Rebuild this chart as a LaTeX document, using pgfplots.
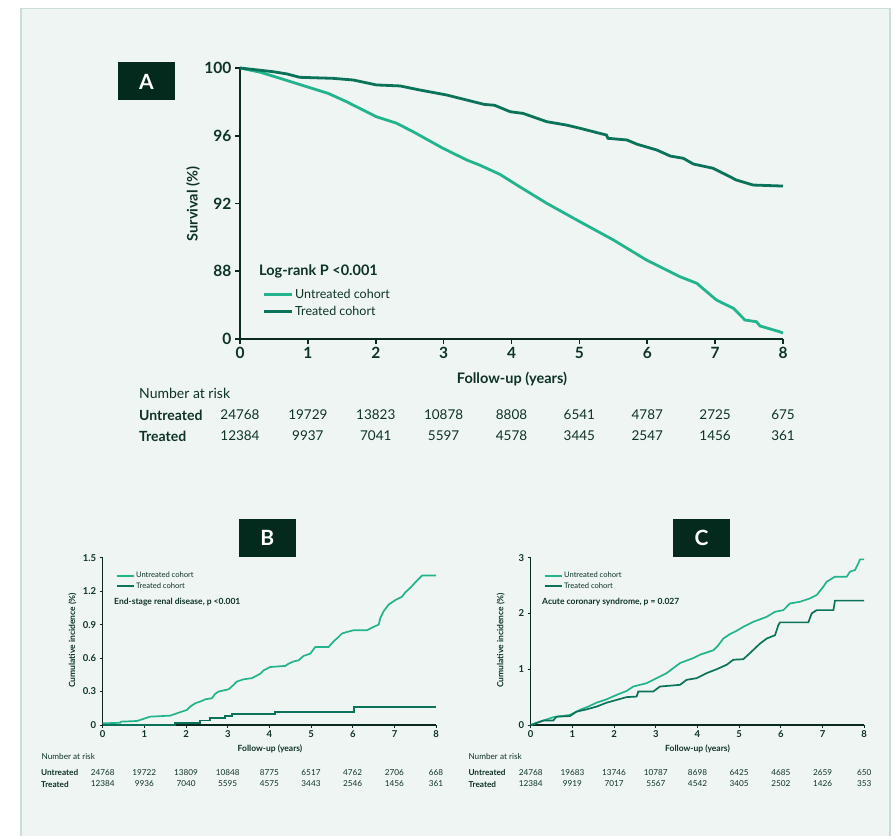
\documentclass[border=0pt]{standalone}
\usepackage{pgfplots}
\pgfplotsset{compat=1.18}
\usepackage{fontspec}
\setmainfont{Lato}
\definecolor{untr}{HTML}{22B48C}
\definecolor{trt}{HTML}{0B735A}
\definecolor{ink}{HTML}{0E3326}
\definecolor{axc}{HTML}{0B2A1F}
\definecolor{boxc}{HTML}{032A1C}
\definecolor{bgc}{HTML}{EEF5F2}
\definecolor{bord}{HTML}{CADDD6}
\newcommand{\fs}[1]{\fontsize{#1}{#1}\selectfont}

\pgfplotstableread{
t s
0 100
0.3 99.75
0.59 99.39
0.98 98.9
1.3 98.5
1.57 98.01
2.01 97.12
2.3 96.75
2.55 96.24
2.99 95.26
3.34 94.57
3.53 94.27
3.83 93.72
4.12 92.99
4.52 92.01
4.96 91.03
5.5 89.85
5.99 88.66
6.48 87.68
6.73 87.29
7.02 86.30
7.27 85.81
7.44 85.12
7.61 85.02
7.66 84.77
7.95 84.43
8 84.35
}\AUntr
\pgfplotstableread{
t s
0 100
0.49 99.78
0.69 99.65
0.88 99.45
1.37 99.39
1.67 99.29
2.01 99.0
2.36 98.94
2.65 98.70
3.04 98.41
3.34 98.11
3.6 97.85
3.75 97.8
3.98 97.42
4.17 97.32
4.52 96.83
4.81 96.63
5.01 96.44
5.40 96.04
5.42 95.85
5.70 95.75
5.85 95.50
6.14 95.16
6.34 94.80
6.53 94.67
6.68 94.33
6.97 94.08
7.17 93.68
7.31 93.39
7.56 93.09
8 93.03
}\ATrt
\pgfplotstableread{
t c
0 0.015
0.42 0.02
0.44 0.03
0.82 0.036
1.02 0.06
1.14 0.075
1.62 0.084
1.78 0.105
1.9 0.12
2.02 0.135
2.1 0.165
2.22 0.195
2.34 0.21
2.46 0.23
2.62 0.24
2.7 0.28
2.78 0.30
3.02 0.32
3.14 0.36
3.22 0.39
3.38 0.41
3.58 0.42
3.78 0.46
3.86 0.49
4.02 0.52
4.38 0.53
4.46 0.55
4.58 0.57
4.7 0.58
4.82 0.62
4.98 0.64
5.1 0.70
5.42 0.70
5.54 0.75
5.66 0.79
5.74 0.82
5.82 0.83
6.02 0.85
6.34 0.85
6.5 0.88
6.62 0.90
6.66 0.96
6.74 1.02
6.86 1.08
7.02 1.12
7.18 1.15
7.26 1.19
7.38 1.23
7.5 1.28
7.66 1.34
8 1.34
}\BUntr
\pgfplotstableread{
t c
0 0
1.74 0
1.74 0.015
2.34 0.015
2.34 0.04
2.58 0.04
2.58 0.06
2.94 0.06
2.94 0.08
3.1 0.08
3.1 0.10
4.14 0.10
4.14 0.117
6.02 0.117
6.02 0.16
8 0.16
}\BTrt
\pgfplotstableread{
t c
0 0
0.54 0.14
0.94 0.18
1.18 0.27
1.38 0.33
1.58 0.40
1.82 0.46
2.06 0.54
2.3 0.61
2.46 0.69
2.78 0.75
3.02 0.84
3.26 0.93
3.58 1.11
3.9 1.20
4.06 1.26
4.38 1.34
4.5 1.43
4.62 1.55
4.78 1.63
4.94 1.69
5.1 1.76
5.34 1.85
5.66 1.94
5.86 2.03
6.06 2.06
6.22 2.18
6.46 2.21
6.7 2.27
6.86 2.33
7.02 2.48
7.1 2.57
7.3 2.66
7.58 2.66
7.66 2.75
7.78 2.78
7.86 2.90
7.9 2.97
8 2.97
}\CUntr
\pgfplotstableread{
t c
0 0
0.3 0.08
0.54 0.08
0.62 0.15
0.94 0.16
1.1 0.24
1.34 0.28
1.58 0.33
1.82 0.40
2.06 0.45
2.3 0.50
2.54 0.51
2.58 0.60
2.94 0.60
3.1 0.69
3.58 0.72
3.74 0.81
3.98 0.84
4.22 0.93
4.46 1.00
4.7 1.08
4.86 1.17
5.1 1.18
5.26 1.29
5.5 1.46
5.66 1.55
5.86 1.61
5.94 1.79
5.98 1.84
6.66 1.84
6.74 2.00
6.86 2.06
7.26 2.06
7.3 2.23
8 2.23
}\CTrt

\pgfplotsset{
  km/.style={
    scale only axis, xmin=0, xmax=8, xtick={0,...,8},
    axis lines=left, axis line style={-, axc},
    tick align=outside,
    every tick/.style={axc},
    /pgf/number format/assume math mode=true,
    clip=false,
    legend cell align=left,
  },
  small km/.style={
    km, width=333.5pt, height=167.3pt,
    axis line style={line width=1.3pt},
    every tick/.append style={line width=1pt},
    major tick length=3pt,
    ticklabel style={font=\fs{9.5}\bfseries, text=ink},
    xticklabel style={yshift=1pt},
    legend style={draw=none, fill=none, anchor=north west, font=\fs{7.6}, text=ink,
      inner sep=0pt, row sep=0.6pt, nodes={inner sep=1.5pt}},
    legend image code/.code={\draw[##1, line width=2pt] (0pt,0pt) -- (17pt,0pt);},
  },
}

\begin{document}
\begin{tikzpicture}
\fill[white] (0pt,0pt) rectangle (896pt,-836pt);
\fill[bgc] (21pt,-8.5pt) rectangle (890pt,-836pt);
\draw[bord, line width=1.5pt] (21pt,-836pt) -- (21pt,-8.5pt) -- (890pt,-8.5pt) -- (890pt,-836pt);

% ---------- Panel A ----------
\begin{axis}[km,
  at={(240pt,-339pt)}, anchor=south west,
  width=543pt, height=271pt,
  ymin=84, ymax=100,
  ytick={84,88,92,96,100}, yticklabels={0,88,92,96,100},
  axis line style={line width=2.6pt},
  every tick/.append style={line width=1.6pt},
  major tick length=5pt,
  ticklabel style={font=\fs{15.5}\bfseries, text=ink},
  legend style={draw=none, fill=none, at={(0.0405,0.1905)}, anchor=north west,
    font=\fs{12.5}, text=ink, inner sep=0pt, row sep=2pt, nodes={inner sep=2pt}},
  legend image code/.code={\draw[#1, line width=3pt] (0pt,0pt) -- (28pt,0pt);},
]
\addplot[untr, line width=2.8pt] table[x=t,y=s] {\AUntr};
\addlegendentry{Untreated cohort}
\addplot[trt, line width=2.8pt] table[x=t,y=s] {\ATrt};
\addlegendentry{Treated cohort}
\end{axis}

\fill[boxc] (118pt,-62.5pt) rectangle (175pt,-100.5pt);
\node[white, font=\fs{21}\bfseries] at (146.5pt,-81.5pt) {A};
\node[rotate=90, font=\fs{14.5}\bfseries, text=ink] at (193pt,-204pt) {Survival (\%)};
\node[anchor=west, inner sep=0pt, font=\fs{14.5}\bfseries, text=ink] at (259pt,-271.5pt) {Log-rank P <0.001};
\node[font=\fs{14.5}\bfseries, text=ink] at (512pt,-379pt) {Follow-up (years)};
\node[anchor=west, inner sep=0pt, font=\fs{14}, text=ink] at (139pt,-393pt) {Number at risk};
\node[anchor=west, inner sep=0pt, font=\fs{14}\bfseries, text=ink] at (139pt,-415pt) {Untreated};
\node[anchor=west, inner sep=0pt, font=\fs{14}\bfseries, text=ink] at (139pt,-436pt) {Treated};
\foreach \v [count=\i from 0] in {24768,19729,13823,10878,8808,6541,4787,2725,675}
  \node[font=\fs{13.5}, text=ink] at ({(240+67.875*\i)*1pt},-415pt) {\v};
\foreach \v [count=\i from 0] in {12384,9937,7041,5597,4578,3445,2547,1456,361}
  \node[font=\fs{13.5}, text=ink] at ({(240+67.875*\i)*1pt},-436pt) {\v};

% ---------- Panel B ----------
\begin{axis}[small km,
  at={(102.7pt,-725pt)}, anchor=south west,
  ymin=0, ymax=1.5, ytick={0,0.3,0.6,0.9,1.2,1.5},
  yticklabel style={/pgf/number format/fixed, /pgf/number format/precision=1},
  legend style={at={(0.038,0.925)}},
]
\addplot[untr, line width=1.7pt] table[x=t,y=c] {\BUntr};
\addlegendentry{Untreated cohort}
\addplot[trt, line width=1.7pt] table[x=t,y=c] {\BTrt};
\addlegendentry{Treated cohort}
\end{axis}

\fill[boxc] (239pt,-519pt) rectangle (295.7pt,-556.7pt);
\node[white, font=\fs{21}\bfseries] at (267.3pt,-537.8pt) {B};
\node[rotate=90, font=\fs{8.5}\bfseries, text=ink] at (72.5pt,-640.5pt) {Cumulative incidence (\%)};
\node[anchor=west, inner sep=0pt, font=\fs{8.5}\bfseries, text=ink] at (114pt,-601.7pt) {End-stage renal disease, p <0.001};
\node[font=\fs{8.5}\bfseries, text=ink] at (270pt,-749.3pt) {Follow-up (years)};
\node[anchor=west, inner sep=0pt, font=\fs{8.2}, text=ink] at (41.5pt,-756.7pt) {Number at risk};
\node[anchor=west, inner sep=0pt, font=\fs{8.2}\bfseries, text=ink] at (41pt,-772.3pt) {Untreated};
\node[anchor=west, inner sep=0pt, font=\fs{8.2}\bfseries, text=ink] at (41pt,-784pt) {Treated};
\foreach \v [count=\i from 0] in {24768,19722,13809,10848,8775,6517,4762,2706,668}
  \node[font=\fs{8.2}, text=ink] at ({(102.7+41.66*\i)*1pt},-772.3pt) {\v};
\foreach \v [count=\i from 0] in {12384,9936,7040,5595,4575,3443,2546,1456,361}
  \node[font=\fs{8.2}, text=ink] at ({(102.7+41.66*\i)*1pt},-784pt) {\v};

% ---------- Panel C ----------
\begin{axis}[small km,
  at={(530.7pt,-725pt)}, anchor=south west,
  ymin=0, ymax=3, ytick={0,1,2,3},
  legend style={at={(0.038,0.925)}},
]
\addplot[untr, line width=1.7pt] table[x=t,y=c] {\CUntr};
\addlegendentry{Untreated cohort}
\addplot[trt, line width=1.7pt] table[x=t,y=c] {\CTrt};
\addlegendentry{Treated cohort}
\end{axis}

\fill[boxc] (673pt,-519pt) rectangle (730pt,-557pt);
\node[white, font=\fs{21}\bfseries] at (701.5pt,-538pt) {C};
\node[rotate=90, font=\fs{8.5}\bfseries, text=ink] at (500.7pt,-640.5pt) {Cumulative incidence (\%)};
\node[anchor=west, inner sep=0pt, font=\fs{8.5}\bfseries, text=ink] at (542pt,-601.7pt) {Acute coronary syndrome, p = 0.027};
\node[font=\fs{8.5}\bfseries, text=ink] at (697.5pt,-749.3pt) {Follow-up (years)};
\node[anchor=west, inner sep=0pt, font=\fs{8.2}, text=ink] at (468.3pt,-756.7pt) {Number at risk};
\node[anchor=west, inner sep=0pt, font=\fs{8.2}\bfseries, text=ink] at (468.3pt,-772.3pt) {Untreated};
\node[anchor=west, inner sep=0pt, font=\fs{8.2}\bfseries, text=ink] at (468.3pt,-784pt) {Treated};
\foreach \v [count=\i from 0] in {24768,19683,13746,10787,8698,6425,4685,2659,650}
  \node[font=\fs{8.2}, text=ink] at ({(530.7+41.7*\i)*1pt},-772.3pt) {\v};
\foreach \v [count=\i from 0] in {12384,9919,7017,5567,4542,3405,2502,1426,353}
  \node[font=\fs{8.2}, text=ink] at ({(530.7+41.7*\i)*1pt},-784pt) {\v};
\end{tikzpicture}
\end{document}
